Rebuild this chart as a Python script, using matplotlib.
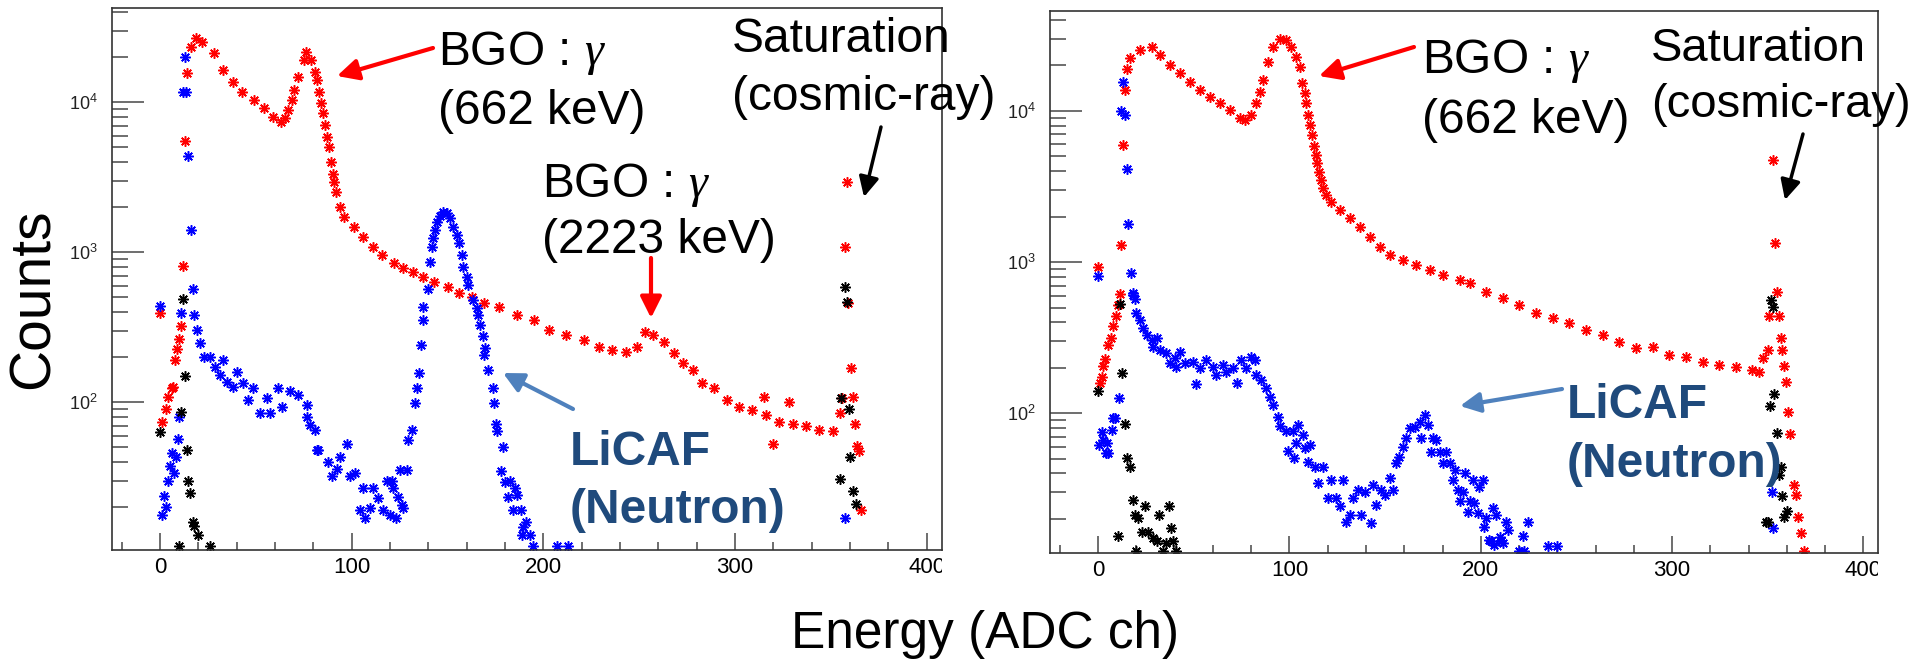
"""
BGO / LiCAF energy spectra, two ROOT-style log panels
"""
import matplotlib
matplotlib.use('Agg')
import matplotlib.pyplot as plt
from matplotlib.ticker import LogLocator, MultipleLocator, NullFormatter
from matplotlib.transforms import Bbox

plt.rcParams['font.family'] = ['Liberation Sans', 'DejaVu Sans']
plt.rcParams['mathtext.fontset'] = 'custom'
plt.rcParams['mathtext.rm'] = 'Liberation Sans'
plt.rcParams['mathtext.it'] = 'Liberation Serif:italic'
plt.rcParams['mathtext.bf'] = 'Liberation Sans:bold'

W, H = 1913, 663

# ---- left panel data (ADC ch, counts) ----
left_red_ch = [0, 1, 3, 4, 6, 7, 8, 9, 10, 11, 12, 13, 14, 16, 19, 22, 28, 33, 38, 43,
               49, 54, 59, 63, 65, 67, 69, 70, 72, 75, 76, 79, 81, 82, 83, 84, 85, 86, 87, 88,
               89, 90, 91, 92, 94, 96, 101, 106, 111, 116, 122, 127, 132, 137, 143, 150, 156, 163, 169, 177,
               186, 195, 203, 212, 221, 229, 236, 243, 249, 253, 257, 263, 268, 273, 278, 283, 289, 296, 302, 309,
               315, 316, 320, 323, 328, 330, 337, 344, 351, 355, 356, 357.6, 358.5, 359.0, 360.7, 361.6, 362.8, 363.7, 364.7, 365.9]
left_red_cnt = [392, 74, 90, 109, 124, 126, 191, 226, 264, 321, 815, 5550, 15600, 23500, 26700, 25400, 21200, 16400, 13700, 11800,
                10400, 9120, 8020, 7430, 7820, 8880, 10360, 12080, 14800, 19100, 21700, 19100, 16000, 14100, 11800, 9850, 8450, 7070, 5900, 5060,
                4020, 3330, 2960, 2540, 2010, 1730, 1480, 1270, 1090, 960, 845, 782, 743, 688, 636, 590, 533, 506, 460, 433,
                382, 354, 303, 281, 260, 235, 223, 217, 235, 296, 281, 254, 212, 182, 164, 134, 124, 103, 93, 89,
                109, 82, 53, 74, 100, 72, 69, 65, 64, 85, 106, 1090, 2930, 457, 169, 109, 72, 51, 47, 19]

left_blue_ch = [0, 0.9, 2.1, 3.1, 4.3, 5.2, 6.1, 7.3, 8.3, 9.2, 10, 10.9, 12.2, 13, 13.4, 14.8, 16, 17, 17.9, 19.5,
                20.9, 23, 26.1, 28.7, 31.3, 33, 34.8, 38.3, 40, 43.5, 46.1, 48.7, 52.2, 55.7, 57.4, 61.7, 63.4, 67.8, 72.1, 76.5,
                76.8, 78.2, 80.8, 81.7, 82.6, 87.8, 89.6, 92.2, 93.9, 97.4, 99.1, 101.7, 104.3, 106.1, 107, 109.6, 111.3, 113.8, 116.1, 118.2,
                120, 120.8, 121.7, 123.1, 124.3, 125.2, 126, 126.9, 128.7, 129.6, 131.4, 133, 134, 135.3, 136, 137, 137.4, 139.6, 140.8, 141.7,
                142.6, 143.4, 144.6, 146.1, 147.8, 149.6, 151.3, 153, 154.7, 156.1, 157.4, 158.2, 160, 160.8, 163.4, 165.2, 166, 166.9, 168.3, 169,
                169.5, 171.3, 173.5, 174.2, 175.3, 176, 177.7, 178.8, 180, 181.7, 182.6, 184, 185.2, 186.1, 188.2, 188.7, 189.5, 190.9, 193, 194.7,
                207, 213, 357.6]
left_blue_cnt = [438, 17.7, 23.7, 20, 30, 37.6, 45.7, 34, 43, 56.7, 80, 392, 11770, 20000, 11770, 4380, 1410, 566, 382, 303,
                 247, 201, 201, 173, 152, 191, 137, 127, 160, 134, 103.5, 124, 85, 106, 85, 124, 93.5, 118, 112, 96,
                 80, 71, 65, 48, 48, 40, 32, 36, 43, 53, 32, 34, 19, 26.7, 16.9, 19.6, 26.7, 22.9, 19, 30,
                 17.7, 30, 26.7, 16.9, 23.5, 35.4, 20.6, 19.6, 35.4, 56, 65, 99, 124, 157, 241, 354, 433, 566, 865, 1090,
                 1240, 1410, 1600, 1746, 1866, 1840, 1686, 1483, 1303, 1148, 960, 802, 688, 605, 481, 424, 382, 327, 277, 207,
                 229, 164, 124, 99, 72, 64, 34.9, 50.6, 29.6, 23.5, 30, 19, 26.7, 24, 19, 13, 14.8, 16, 13, 11,
                 11, 11, 16.9]

left_black_ch = [0, 10, 10.9, 11.8, 13, 13.9, 14.8, 15.6, 17, 17.9, 20, 26,
                 355, 355.4, 357.6, 358.5, 359.4, 360.2, 361.6, 363]
left_black_cnt = [63, 11, 86, 486, 150, 48, 30, 24.7, 16, 15, 13, 11,
                  31, 106, 590, 469, 90, 43, 25.8, 21]

# ---- right panel data ----
right_red_ch = [0, 0.9, 1.8, 2.6, 3.5, 5.2, 6.5, 7.8, 9.2, 10.4, 11.3, 11.7, 12.7, 13.9, 14.8, 16.6, 21.8, 27.9, 32.2, 37.4,
                42.7, 47.9, 53.1, 58.3, 63.6, 68.8, 74, 76.6, 80.1, 82.7, 84.4, 86.2, 88.8, 91.4, 94.9, 98.4, 101, 103.6, 105.3, 106.7,
                107.9, 108.8, 109.7, 110.9, 112, 112.8, 113.7, 114.6, 115.4, 116.3, 117.5, 119.3, 121.9, 126.2, 131.4, 136.7, 141.9, 147.1, 152.3, 159.3,
                166.3, 173.2, 180.2, 188.9, 194.1, 202.8, 211.5, 220.2, 228.9, 237.6, 246.3, 255, 263.7, 272.4, 281.1, 289.8, 298.5, 307.3, 316, 324.6,
                333.4, 342, 345.5, 347.3, 349.9, 350.8, 352.5, 353.7, 354.6, 356, 356.9, 357.7, 358.6, 359.8, 360.8, 361.7, 363.8, 364.7, 366, 367.6,
                369]
right_red_cnt = [933, 158, 175, 206, 228, 283, 314, 379, 437, 521, 616, 1300, 5960, 13780, 18970, 22330, 25300, 26600, 23450, 20140,
                 17740, 15630, 13770, 12440, 11250, 10160, 8950, 8720, 9420, 11250, 13420, 16030, 21200, 26600, 29800, 29500, 26600, 22850, 19630, 15240,
                 13090, 11240, 9410, 8080, 6940, 5870, 5120, 4510, 3970, 3500, 3080, 2780, 2510, 2210, 1950, 1720, 1475, 1268, 1117, 1035,
                 958, 887, 822, 762, 724, 638, 577, 521, 459, 426, 395, 357, 330, 298, 270, 276, 243, 237, 220, 209,
                 204, 194, 189, 231, 262, 437, 4740, 1333, 638, 437, 314, 262, 206, 162, 102.6, 73, 33.6, 28.8, 20.7, 16.1,
                 12.2]

right_blue_ch = [0, 0.5, 1.8, 2.6, 3.9, 4.4, 5.2, 7, 7.8, 8.7, 11, 11.7, 12.7, 13.9, 14.8, 15.7, 16.9, 18, 18.3, 19.2,
                 20, 21.8, 23.5, 25.3, 27.9, 28.7, 30.5, 32.2, 35.7, 37.4, 40.1, 40.9, 42.7, 45.3, 49.6, 50.9, 53.1, 56.6, 60, 61.8,
                 65.3, 67, 70.5, 72.3, 74.9, 77.5, 80.1, 81.8, 82.7, 85.3, 87.9, 89.7, 91.4, 94, 94.9, 98.4, 99.2, 101.8, 102.2, 103.6,
                 104.4, 107, 107.9, 109.7, 110.5, 113.2, 114.9, 117.5, 120.1, 121.9, 124.5, 126.2, 127.9, 129.7, 131.4, 133.2, 135.8, 137.5, 139.3, 142.8,
                 143.6, 145.4, 148, 149.7, 152.3, 154.1, 155.8, 157.5, 159.3, 161, 162.8, 165.4, 168, 168.5, 170.6, 172.3, 174.1, 174.9, 176.7, 178.5,
                 180.2, 181.9, 183.7, 185.4, 186.3, 188, 188.9, 190.6, 191.5, 193.2, 194.1, 195.8, 196.7, 198.4, 199.3, 201, 201.9, 202.8, 204.5, 205.4,
                 206.3, 206.8, 208, 209.8, 210.7, 211.5, 213.3, 214.1, 220.2, 222, 222.8, 224.5, 235, 239.7, 352.2, 352.5]
right_blue_cnt = [811, 61.8, 75.7, 66.7, 55, 63.4, 55, 77.6, 92.9, 92.9, 126, 10000, 15630, 9420, 4130, 1790, 853, 607, 622, 569,
                  459, 415, 366, 330, 306, 276, 314, 262, 250, 214, 231, 204, 256, 214, 220, 156, 199, 225, 204, 180,
                  209, 189, 199, 158, 225, 199, 235, 225, 180, 166, 147, 129, 114, 95, 82, 76, 56, 76, 50.5, 63.4,
                  84, 72, 58.8, 47.9, 61.8, 44.4, 34.5, 44.4, 27.4, 36.3, 27.4, 24.2, 36.3, 19.2, 21.3, 27.4, 31.1, 21.3, 30.3, 18.8,
                  33.7, 24.8, 31.1, 28.8, 37.2, 31.1, 46.8, 51.8, 60.3, 68.4, 79.6, 81.7, 88.1, 68.4, 97.5, 83.8, 55.8, 68.4, 66.7, 55.8,
                  46.8, 55.8, 46.8, 36.3, 42.2, 31.1, 26.5, 30.3, 40.6, 22.4, 26.5, 36.3, 25.5, 21.8, 32.4, 36.3, 17.8, 20.2, 14.6, 14.2,
                  23.6, 13.5, 21.3, 15.3, 14.2, 13.8, 19.2, 17, 12.2, 15.5, 12.2, 19.2, 13.3, 13.3, 30.3, 17.4]

right_black_ch = [0, 10.4, 11.3, 12.2, 13.9, 14.8, 16.6, 18, 19.2, 20, 20.9, 22.7, 24.4, 26.1, 28.7, 30.5, 31.7, 33.9, 35.7, 37,
                  38.3, 39.2, 40.9, 349, 349.9, 351.1, 351.6, 352.5, 353.4, 354.6, 356, 356.9, 357.7, 358.6, 360]
right_black_cnt = [141, 15.5, 530, 184, 85, 51, 44, 26.7, 21.3, 12.2, 20.2, 16.3, 24.4, 16.3, 14.9, 14.2, 21.3, 12.2, 13.8, 24.4,
                   17.4, 14.2, 12.2, 19.2, 19.2, 111, 562, 508, 134, 74, 39, 44, 28.5, 20.6, 22.7]

XLIM = (-25.2, 407.8)
LEFT_YLIM = (10.35, 42560)
RIGHT_YLIM = (11.97, 46030)

STAR = (8, 2, 0)
LICAF_COLOR = '#1f4a7c'


def fp(x, y):
    """pixel position in the 1913x663 canvas -> figure fraction"""
    return (x / W, 1 - y / H)


def setup_panel(ax, ylim):
    ax.set_xlim(*XLIM)
    ax.set_yscale('log')
    ax.set_ylim(*ylim)
    ax.xaxis.set_major_locator(MultipleLocator(100))
    ax.xaxis.set_minor_locator(MultipleLocator(20))
    ax.yaxis.set_major_locator(LogLocator(base=10))
    ax.yaxis.set_minor_locator(LogLocator(base=10, subs=range(2, 10)))
    ax.yaxis.set_minor_formatter(NullFormatter())
    ax.tick_params(which='both', direction='in', top=False, right=False,
                   color='#555555', width=1.2)
    ax.tick_params(axis='x', which='major', length=12, pad=5, labelsize=16)
    ax.tick_params(axis='x', which='minor', length=6)
    ax.tick_params(axis='y', which='major', length=23, pad=10, labelsize=13,
                   labelcolor='#222222')
    ax.tick_params(axis='y', which='minor', length=11.5)
    for sp in ax.spines.values():
        sp.set_color('#333333')
        sp.set_linewidth(1.2)


def draw_series(ax, ch, cnt, color):
    ax.plot(ch, cnt, ls='none', marker=STAR, ms=7.5, mew=1.1,
            mec=color, mfc=color, color=color)


def clip_xlabels(ax):
    # ROOT cuts the last tick label at the frame edge
    x1 = ax.get_position().x1 * W
    box = Bbox.from_extents(0, 0, x1, H)
    for lbl in ax.get_xticklabels():
        lbl.set_clip_box(box)
        lbl.set_clip_on(True)


def arrow(ax, tail, tip, color, lw, scale):
    ax.annotate('', xy=fp(*tip), xycoords='figure fraction',
                xytext=fp(*tail), textcoords='figure fraction',
                annotation_clip=False,
                arrowprops=dict(arrowstyle='-|>', color=color, lw=lw,
                                mutation_scale=scale, shrinkA=0, shrinkB=0))


def label(x, y, s, **kw):
    opts = dict(ha='left', va='baseline', fontsize=34.5, color='black')
    opts.update(kw)
    fig.text(*fp(x, y), s, **opts)


fig = plt.figure(figsize=(W / 100, H / 100), dpi=100)
axL = fig.add_axes([111.7 / W, 1 - 550 / H, 830 / W, 542 / H])
axR = fig.add_axes([1050 / W, 1 - 552.7 / H, 828.3 / W, 542 / H])

setup_panel(axL, LEFT_YLIM)
setup_panel(axR, RIGHT_YLIM)

draw_series(axL, left_red_ch, left_red_cnt, '#ff0000')
draw_series(axL, left_blue_ch, left_blue_cnt, '#0000ff')
draw_series(axL, left_black_ch, left_black_cnt, '#000000')

draw_series(axR, right_red_ch, right_red_cnt, '#ff0000')
draw_series(axR, right_blue_ch, right_blue_cnt, '#0000ff')
draw_series(axR, right_black_ch, right_black_cnt, '#000000')

fig.canvas.draw()
clip_xlabels(axL)
clip_xlabels(axR)

# axis titles
fig.text(*fp(34, 299), 'Counts', rotation=90, fontsize=41,
         ha='center', va='center')
fig.text(*fp(985, 648), 'Energy (ADC ch)', fontsize=37,
         ha='center', va='baseline')

# left panel notes
label(438, 65, r'BGO : $\gamma$')
label(438, 124, '(662 keV)')
label(732, 52, 'Saturation')
label(732, 110, '(cosmic-ray)')
label(542, 197, r'BGO : $\gamma$')
label(542, 253, '(2223 keV)')
label(570, 465, 'LiCAF', fontweight='bold', color=LICAF_COLOR)
label(570, 523, '(Neutron)', fontweight='bold', color=LICAF_COLOR)

arrow(axL, (433, 48), (337, 76), '#ff0000', 3, 32)
arrow(axL, (651, 258), (651, 318), '#ff0000', 3, 32)
arrow(axL, (881, 127), (864, 197), '#000000', 2.5, 30)
arrow(axL, (573, 409), (503, 373), '#4f81bd', 3, 30)

# right panel notes (kept a few px inside the right edge)
label(1422, 73, r'BGO : $\gamma$')
label(1422, 133, '(662 keV)')
label(1651, 61, 'Saturation', fontsize=34)
label(1651, 117, '(cosmic-ray)', fontsize=34)
label(1567, 418, 'LiCAF', fontweight='bold', color=LICAF_COLOR)
label(1567, 477, '(Neutron)', fontweight='bold', color=LICAF_COLOR)

arrow(axR, (1414, 47), (1319, 76), '#ff0000', 3, 32)
arrow(axR, (1803, 134), (1785, 200), '#000000', 2.5, 30)
arrow(axR, (1562, 389), (1460, 406), '#4f81bd', 3, 30)

fig.savefig('out.png', dpi=100, facecolor='white')
